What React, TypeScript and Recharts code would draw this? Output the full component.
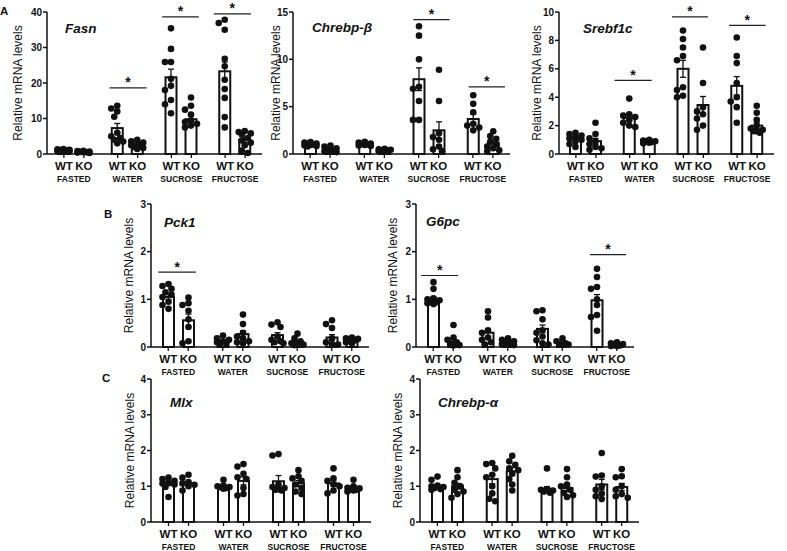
import { BarChart, Bar, XAxis, YAxis, ErrorBar } from "recharts"

const INK = "#111"

const groups = ["FASTED", "WATER", "SUCROSE", "FRUCTOSE"]
const genotypes = ["WT", "KO"]

// Fasn
const fasnWt = [1.0, 7.3, 21.6, 23.3]
const fasnKo = [0.55, 2.6, 9.8, 4.0]
const fasnWtSem = [0.1, 1.3, 2.3, 2.6]
const fasnKoSem = [0.08, 0.3, 0.8, 0.7]
const fasnWtDots = [
  [1.4, 1.3, 1.2, 1.1, 1.0, 0.9, 0.8, 0.7, 0.6],
  [13.6, 12.8, 12.0, 10.5, 6.0, 5.0, 4.5, 4.0, 3.5, 3.0],
  [35.4, 29.6, 25.9, 25.9, 21.2, 19.2, 18.0, 15.2, 14.0, 11.5],
  [37.8, 36.9, 35.0, 26.8, 24.7, 20.9, 18.3, 15.8, 10.4, 7.5],
]
const fasnKoDots = [
  [0.9, 0.8, 0.7, 0.6, 0.5, 0.5, 0.4, 0.3],
  [4.0, 3.6, 3.2, 2.8, 2.5, 2.3, 2.0, 1.7, 1.4],
  [15.9, 13.6, 12.5, 11.1, 9.5, 9.0, 8.5, 8.0, 7.5],
  [6.5, 6.2, 5.8, 5.5, 4.5, 3.8, 3.2, 2.5, 1.0, 0.3],
]
// significance bars: [from, to] in group units, height in data units
const fasnSig = [[1.17, 1.86, 18.6], [2.15, 2.83, 38.6], [3.11, 3.8, 39.5]]

// Chrebp-beta
const cbWt = [1.0, 1.05, 7.9, 3.7]
const cbKo = [0.5, 0.4, 2.5, 1.2]
const cbWtSem = [0.05, 0.06, 1.2, 0.5]
const cbKoSem = [0.1, 0.04, 0.9, 0.25]
const cbWtDots = [
  [1.25, 1.2, 1.1, 1.05, 1.0, 0.95, 0.9, 0.85, 0.8],
  [1.3, 1.2, 1.1, 1.05, 1.0, 0.95, 0.9, 0.85],
  [13.5, 12.5, 10.0, 7.1, 6.9, 5.6, 3.6, 3.6],
  [6.2, 5.3, 4.4, 3.2, 3.0, 2.8, 2.5],
]
const cbKoDots = [
  [0.9, 0.8, 0.6, 0.5, 0.4, 0.3, 0.25, 0.2],
  [0.55, 0.5, 0.45, 0.4, 0.35, 0.3, 0.3],
  [8.9, 5.6, 2.2, 1.8, 1.5, 0.8, 0.5, 0.3],
  [2.4, 1.9, 1.6, 1.3, 1.0, 0.8, 0.6, 0.4, 0.3],
]
const cbSig = [[2.21, 2.88, 14.2], [3.23, 3.9, 7.1]]

// Srebf1c
const srWt = [1.15, 2.55, 6.0, 4.8]
const srKo = [0.9, 0.88, 3.45, 2.0]
const srWtSem = [0.1, 0.2, 0.6, 0.65]
const srKoSem = [0.2, 0.04, 0.6, 0.2]
const srWtDots = [
  [1.5, 1.4, 1.3, 1.2, 1.1, 1.0, 0.9, 0.7, 0.5],
  [3.9, 2.8, 2.7, 2.6, 2.4, 2.2, 2.0, 1.9],
  [8.7, 8.1, 7.5, 6.9, 6.6, 4.7, 4.5, 4.1, 4.0],
  [8.2, 6.9, 6.4, 5.0, 4.0, 3.7, 3.3, 2.2],
]
const srKoDots = [
  [2.2, 1.4, 1.1, 0.9, 0.7, 0.5, 0.4, 0.3],
  [1.0, 0.95, 0.9, 0.88, 0.85, 0.8, 0.75],
  [7.5, 5.0, 3.3, 3.0, 2.8, 2.5, 2.0, 1.7],
  [3.4, 2.9, 2.4, 2.0, 1.8, 1.7, 1.6, 1.5, 1.6],
]
const srSig = [[1.04, 1.73, 5.18], [2.11, 2.78, 9.65], [3.17, 3.85, 9.06]]

// Pck1
const pckWt = [1.05, 0.13, 0.25, 0.2]
const pckKo = [0.56, 0.27, 0.1, 0.15]
const pckWtSem = [0.05, 0.02, 0.05, 0.06]
const pckKoSem = [0.13, 0.07, 0.03, 0.02]
const pckWtDots = [
  [1.32, 1.28, 1.22, 1.15, 1.1, 1.05, 0.95, 0.88, 0.8],
  [0.24, 0.18, 0.15, 0.12, 0.1, 0.08, 0.05],
  [0.52, 0.47, 0.42, 0.22, 0.15, 0.12, 0.1, 0.08],
  [0.56, 0.48, 0.4, 0.18, 0.1, 0.06, 0.05],
]
const pckKoDots = [
  [1.04, 0.92, 0.88, 0.76, 0.58, 0.42, 0.12, 0.08],
  [0.68, 0.48, 0.3, 0.22, 0.18, 0.12, 0.1, 0.08],
  [0.28, 0.18, 0.12, 0.08, 0.06, 0.05, 0.04],
  [0.2, 0.18, 0.17, 0.16, 0.14, 0.1, 0.08],
]
const pckSig = [[0.13, 0.82, 1.57]]

// G6pc
const g6Wt = [1.0, 0.3, 0.38, 0.98]
const g6Ko = [0.12, 0.1, 0.08, 0.04]
const g6WtSem = [0.05, 0.08, 0.08, 0.12]
const g6KoSem = [0.05, 0.02, 0.02, 0.01]
const g6WtDots = [
  [1.36, 1.22, 1.02, 1.0, 0.98, 0.96, 0.94, 0.92, 0.9],
  [0.75, 0.62, 0.35, 0.3, 0.2, 0.15, 0.1, 0.05],
  [0.77, 0.75, 0.58, 0.35, 0.3, 0.22, 0.14, 0.08, 0.05],
  [1.64, 1.47, 1.26, 1.22, 1.0, 0.88, 0.67, 0.63, 0.34],
]
const g6KoDots = [
  [0.46, 0.2, 0.15, 0.1, 0.06, 0.04, 0.03],
  [0.18, 0.15, 0.12, 0.1, 0.08, 0.06, 0.05, 0.04],
  [0.18, 0.12, 0.08, 0.06, 0.05, 0.04],
  [0.1, 0.08, 0.06, 0.04, 0.03, 0.02, 0.02],
]
const g6Sig = [[0.09, 0.77, 1.5], [3.19, 3.85, 1.94]]

// Mlx
const mlxWt = [1.08, 0.98, 1.14, 1.08]
const mlxKo = [1.08, 1.15, 1.08, 0.94]
const mlxWtSem = [0.06, 0.03, 0.16, 0.07]
const mlxKoSem = [0.05, 0.11, 0.08, 0.04]
const mlxWtDots = [
  [1.24, 1.2, 1.15, 1.1, 1.08, 1.05, 0.98, 0.7],
  [1.18, 1.02, 1.0, 0.98, 0.97, 0.95, 0.93],
  [1.9, 1.86, 1.05, 0.98, 0.95, 0.92, 0.88, 0.9],
  [1.5, 1.22, 1.15, 1.05, 1.0, 0.88, 0.8],
]
const mlxKoDots = [
  [1.32, 1.24, 1.12, 1.08, 1.04, 1.0, 0.88],
  [1.62, 1.55, 1.35, 1.25, 1.2, 0.95, 0.78, 0.74],
  [1.45, 1.28, 1.22, 1.15, 1.05, 0.95, 0.85, 0.78],
  [1.18, 1.0, 0.96, 0.94, 0.92, 0.9, 0.88, 0.85],
]

// Chrebp-alpha
const caWt = [1.0, 1.2, 0.93, 1.05]
const caKo = [1.0, 1.42, 0.95, 0.98]
const caWtSem = [0.04, 0.13, 0.06, 0.14]
const caKoSem = [0.08, 0.1, 0.08, 0.1]
const caWtDots = [
  [1.27, 1.18, 1.02, 1.0, 0.98, 0.95, 0.92, 0.9],
  [1.65, 1.62, 1.5, 1.32, 1.25, 1.0, 0.8, 0.65, 0.58],
  [1.5, 0.92, 0.9, 0.88, 0.85, 0.82],
  [1.93, 1.3, 1.27, 1.0, 0.9, 0.8, 0.72, 0.64],
]
const caKoDots = [
  [1.45, 1.25, 1.1, 1.0, 0.9, 0.85, 0.78, 0.68],
  [1.85, 1.7, 1.6, 1.5, 1.45, 1.35, 1.2, 1.05, 0.88],
  [1.48, 1.25, 1.05, 1.0, 0.9, 0.82, 0.75, 0.7],
  [1.48, 1.28, 1.25, 1.0, 0.9, 0.78, 0.72, 0.68],
]

const Y_W = 50
const M_T = 20
const M_R = 10
const X_H = 40
const DOT_R = 3.3
const BAR = 11
const GAP = 9

const panels = [
  { left: 47, top: 12, width: 215, height: 142, max: 40, ticks: [0, 10, 20, 30, 40], lab: 20.5,
    wt: fasnWt, ko: fasnKo, wtSem: fasnWtSem, koSem: fasnKoSem, wtDots: fasnWtDots, koDots: fasnKoDots, sig: fasnSig },
  { left: 293, top: 12, width: 217, height: 142, max: 15, ticks: [0, 5, 10, 15], lab: 33,
    wt: cbWt, ko: cbKo, wtSem: cbWtSem, koSem: cbKoSem, wtDots: cbWtDots, koDots: cbKoDots, sig: cbSig },
  { left: 559, top: 12, width: 215, height: 142, max: 10, ticks: [0, 2, 4, 6, 8, 10], lab: 27.3,
    wt: srWt, ko: srKo, wtSem: srWtSem, koSem: srKoSem, wtDots: srWtDots, koDots: srKoDots, sig: srSig },
  { left: 151, top: 204, width: 218, height: 143, max: 3, ticks: [0, 1, 2, 3], lab: 27.7,
    wt: pckWt, ko: pckKo, wtSem: pckWtSem, koSem: pckKoSem, wtDots: pckWtDots, koDots: pckKoDots, sig: pckSig },
  { left: 416, top: 204, width: 218, height: 143, max: 3, ticks: [0, 1, 2, 3], lab: 27,
    wt: g6Wt, ko: g6Ko, wtSem: g6WtSem, koSem: g6KoSem, wtDots: g6WtDots, koDots: g6KoDots, sig: g6Sig },
  { left: 151, top: 379, width: 220, height: 143, max: 4, ticks: [0, 1, 2, 3, 4], lab: 28.5,
    wt: mlxWt, ko: mlxKo, wtSem: mlxWtSem, koSem: mlxKoSem, wtDots: mlxWtDots, koDots: mlxKoDots, sig: [] },
  { left: 420, top: 379, width: 219, height: 143, max: 4, ticks: [0, 1, 2, 3, 4], lab: 28,
    wt: caWt, ko: caKo, wtSem: caWtSem, koSem: caKoSem, wtDots: caWtDots, koDots: caKoDots, sig: [] },
]

const titles = [
  { text: "Fasn", x: 65, y: 33 },
  { text: "Chrebp-\u03b2", x: 312, y: 32 },
  { text: "Srebf1c", x: 583, y: 33 },
  { text: "Pck1", x: 164, y: 226.5 },
  { text: "G6pc", x: 426, y: 226 },
  { text: "Mlx", x: 170, y: 406.5 },
  { text: "Chrebp-\u03b1", x: 438, y: 406.5 },
]

const letters = [
  { text: "A", x: 0, y: 15 },
  { text: "B", x: 104, y: 218 },
  { text: "C", x: 102, y: 382 },
]

// spread the dots sideways where they would overlap, like a scatter dot plot
function swarm(vals: number[], toY: (v: number) => number) {
  const placed: { x: number; y: number }[] = []
  const slots = [0, -1, 1, -2, 2]
  const step = 3
  const minD = 5.4
  for (const v of [...vals].sort((a, b) => b - a)) {
    const cy = toY(v)
    let best = 0
    let bestD = -1
    for (const s of slots) {
      const cx = s * step
      const d = placed.reduce((m, p) => Math.min(m, Math.hypot(p.x - cx, p.y - cy)), Infinity)
      if (d >= minD) { best = cx; break }
      if (d > bestD) { bestD = d; best = cx }
    }
    placed.push({ x: best, y: cy })
  }
  return placed
}

function dotBar(meanKey: string, dotsKey: string, sig: number[][], band: number) {
  return (props: any) => {
    const { x, y, width, height, payload, index } = props
    const mean = payload[meanKey]
    const base = y + height
    const perUnit = mean > 0 ? height / mean : 0
    const cx0 = x + width / 2
    const pts = swarm(payload[dotsKey], (v) => base - v * perUnit)
    // the KO bar carries the significance bar of its group
    const groupCenter = cx0 - (BAR + GAP) / 2
    const marks = sig.filter((s) => Math.floor(s[0]) === index)
    return (
      <g>
        <rect x={x} y={y} width={width} height={height} fill="#fff" stroke={INK} strokeWidth={2} />
        {pts.map((p, i) => (
          <circle key={i} cx={cx0 + p.x} cy={p.y} r={DOT_R} fill={INK} />
        ))}
        {marks.map((s, i) => {
          const x1 = groupCenter + (s[0] - index - 0.5) * band
          const x2 = groupCenter + (s[1] - index - 0.5) * band
          const ly = base - s[2] * perUnit
          return (
            <g key={`s${i}`}>
              <line x1={x1} x2={x2} y1={ly} y2={ly} stroke="#222" strokeWidth={1.2} />
              <text x={(x1 + x2) / 2} y={ly - 0.5} textAnchor="middle" fontSize={14} fontWeight={700} fill={INK}>*</text>
            </g>
          )
        })}
      </g>
    )
  }
}

function GroupTick(props: any) {
  const { x, y, payload } = props
  return (
    <g>
      {genotypes.map((g, i) => {
        const gx = x + (i === 0 ? -1 : 1) * (BAR + GAP) / 2
        return (
          <g key={g}>
            <line x1={gx} x2={gx} y1={y} y2={y + 4} stroke={INK} strokeWidth={1.3} />
            <text x={gx} y={y + 16} textAnchor="middle" fontSize={11.5} fontWeight={700} fill={INK}>{g}</text>
          </g>
        )
      })}
      <text x={x} y={y + 28} textAnchor="middle" fontSize={8.5} fontWeight={700} fill={INK}>{payload.value}</text>
    </g>
  )
}

function Panel({ p }: { p: (typeof panels)[number] }) {
  const data = groups.map((g, i) => ({
    group: g,
    wt: p.wt[i],
    ko: p.ko[i],
    wtSem: p.wtSem[i],
    koSem: p.koSem[i],
    wtDots: p.wtDots[i],
    koDots: p.koDots[i],
  }))
  const band = p.width / groups.length
  return (
    <div style={{ position: "absolute", left: p.left - Y_W, top: p.top - M_T }}>
      <BarChart
        width={Y_W + p.width + M_R}
        height={M_T + p.height + X_H}
        data={data}
        margin={{ top: M_T, right: M_R, left: 0, bottom: 0 }}
        barSize={BAR}
        barGap={GAP}
      >
        <XAxis
          dataKey="group"
          height={X_H}
          interval={0}
          tickLine={false}
          tickSize={0}
          tickMargin={0}
          axisLine={{ stroke: INK, strokeWidth: 1.5 }}
          tick={<GroupTick />}
        />
        <YAxis
          width={Y_W}
          domain={[0, p.max]}
          ticks={p.ticks}
          interval={0}
          tickSize={4}
          tickMargin={1}
          axisLine={{ stroke: INK, strokeWidth: 1.5 }}
          tickLine={{ stroke: INK, strokeWidth: 1.5 }}
          tick={{ fontSize: 10, fontWeight: 700, fill: INK }}
          label={{
            value: "Relative mRNA levels",
            angle: -90,
            position: "insideLeft",
            offset: p.lab,
            style: { textAnchor: "middle", fontSize: 12, fill: INK },
          }}
        />
        <Bar dataKey="wt" shape={dotBar("wt", "wtDots", [], band)} isAnimationActive={false}>
          <ErrorBar dataKey="wtSem" width={3} stroke={INK} strokeWidth={1.3} isAnimationActive={false} />
        </Bar>
        <Bar dataKey="ko" shape={dotBar("ko", "koDots", p.sig, band)} isAnimationActive={false}>
          <ErrorBar dataKey="koSem" width={3} stroke={INK} strokeWidth={1.3} isAnimationActive={false} />
        </Bar>
      </BarChart>
    </div>
  )
}

export default function App() {
  return (
    <div
      style={{
        position: "absolute",
        left: 0,
        top: 0,
        width: 787,
        height: 551,
        background: "#fff",
        fontFamily: "'Liberation Sans', Arial, sans-serif",
        overflow: "hidden",
      }}
    >
      {panels.map((p, i) => (
        <Panel key={i} p={p} />
      ))}
      <svg width={787} height={551} style={{ position: "absolute", left: 0, top: 0, pointerEvents: "none" }}>
        {titles.map((t) => (
          <text key={t.text} x={t.x} y={t.y} fontSize={13.5} fontWeight={700} fontStyle="italic" fill={INK}>
            {t.text}
          </text>
        ))}
        {letters.map((t) => (
          <text key={t.text} x={t.x} y={t.y} fontSize={11.5} fontWeight={700} fill={INK}>
            {t.text}
          </text>
        ))}
      </svg>
    </div>
  )
}
